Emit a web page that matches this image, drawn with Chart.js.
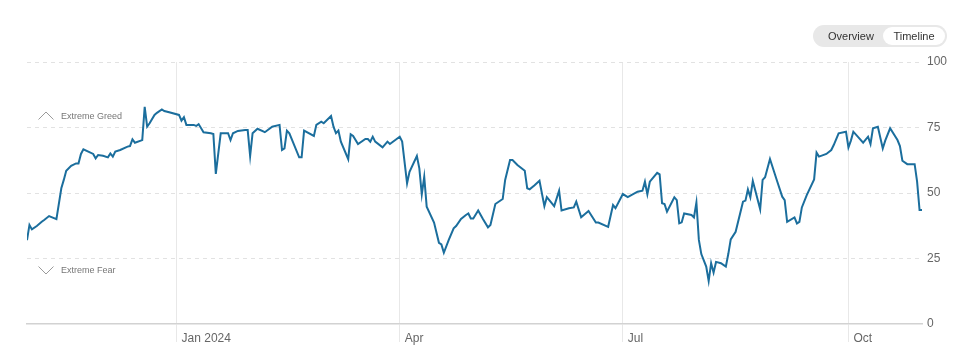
<!DOCTYPE html>
<html>
<head>
<meta charset="utf-8">
<script src="https://cdn.jsdelivr.net/npm/chart.js@4.4.1/dist/chart.umd.min.js"></script>
<style>
  body { margin: 0; background: #fff; font-family: 'Liberation Sans', Arial, sans-serif; }
  #wrap { position: relative; width: 966px; height: 360px; }
  #toggle { position: absolute; left: 813px; top: 25px; width: 134px; height: 22px; border-radius: 11px; background: #e8e8e8; font-size: 11px; color: #333; }
  #toggle .off { position: absolute; left: 15px; top: 0; line-height: 22px; }
  #toggle .on { position: absolute; left: 70px; top: 2px; width: 62px; height: 18px; border-radius: 9px; background: #fff; line-height: 18px; text-align: center; }
</style>
</head>
<body>
<div id="wrap">
  <canvas id="myChart" width="966" height="360"></canvas>
  <div id="toggle"><span class="off">Overview</span><span class="on">Timeline</span></div>
</div>
<script>
// fear & greed index
const dates = [
  '2023-11-01','2023-11-02','2023-11-03','2023-11-05','2023-11-07','2023-11-08','2023-11-10','2023-11-13','2023-11-15','2023-11-16',
  '2023-11-17','2023-11-19','2023-11-21','2023-11-22','2023-11-23','2023-11-24','2023-11-26','2023-11-28','2023-11-29','2023-11-30',
  '2023-12-02','2023-12-04','2023-12-05','2023-12-06','2023-12-07','2023-12-09','2023-12-12','2023-12-13','2023-12-14','2023-12-15',
  '2023-12-18','2023-12-19','2023-12-20','2023-12-21','2023-12-23','2023-12-24','2023-12-26','2023-12-27','2023-12-29','2024-01-02',
  '2024-01-03','2024-01-04','2024-01-05','2024-01-07','2024-01-08','2024-01-09','2024-01-10','2024-01-12','2024-01-15','2024-01-16',
  '2024-01-17','2024-01-19','2024-01-22','2024-01-23','2024-01-24','2024-01-26','2024-01-29','2024-01-30','2024-01-31','2024-02-01',
  '2024-02-03','2024-02-06','2024-02-09','2024-02-12','2024-02-13','2024-02-14','2024-02-15','2024-02-16','2024-02-20','2024-02-21',
  '2024-02-22','2024-02-26','2024-02-27','2024-02-29','2024-03-01','2024-03-04','2024-03-05','2024-03-06','2024-03-07','2024-03-08',
  '2024-03-11','2024-03-12','2024-03-13','2024-03-15','2024-03-18','2024-03-19','2024-03-20','2024-03-21','2024-03-22','2024-03-25',
  '2024-03-27','2024-03-28','2024-04-01','2024-04-02','2024-04-04','2024-04-05','2024-04-08','2024-04-09','2024-04-10','2024-04-11',
  '2024-04-12','2024-04-15','2024-04-17','2024-04-18','2024-04-19','2024-04-21','2024-04-23','2024-04-24','2024-04-26','2024-04-28',
  '2024-04-29','2024-04-30','2024-05-01','2024-05-03','2024-05-05','2024-05-07','2024-05-08','2024-05-10','2024-05-13','2024-05-14',
  '2024-05-16','2024-05-17','2024-05-19','2024-05-22','2024-05-23','2024-05-24','2024-05-26','2024-05-28','2024-05-30','2024-05-31',
  '2024-06-03','2024-06-05','2024-06-06','2024-06-09','2024-06-11','2024-06-12','2024-06-14','2024-06-17','2024-06-20','2024-06-21',
  '2024-06-25','2024-06-27','2024-06-28','2024-07-01','2024-07-03','2024-07-07','2024-07-09','2024-07-10','2024-07-11','2024-07-12',
  '2024-07-15','2024-07-16','2024-07-17','2024-07-18','2024-07-19','2024-07-22','2024-07-23','2024-07-24','2024-07-25','2024-07-26',
  '2024-07-29','2024-07-30','2024-07-31','2024-08-01','2024-08-02','2024-08-04','2024-08-05','2024-08-06','2024-08-07','2024-08-08',
  '2024-08-10','2024-08-12','2024-08-13','2024-08-14','2024-08-16','2024-08-19','2024-08-20','2024-08-21','2024-08-22','2024-08-23',
  '2024-08-26','2024-08-27','2024-08-28','2024-08-30','2024-09-02','2024-09-04','2024-09-05','2024-09-06','2024-09-09','2024-09-10',
  '2024-09-11','2024-09-12','2024-09-14','2024-09-17','2024-09-18','2024-09-19','2024-09-22','2024-09-24','2024-09-25','2024-09-27',
  '2024-09-30','2024-10-01','2024-10-02','2024-10-03','2024-10-07','2024-10-09','2024-10-10','2024-10-11','2024-10-13','2024-10-15',
  '2024-10-16','2024-10-18','2024-10-21','2024-10-22','2024-10-23','2024-10-25','2024-10-28','2024-10-29','2024-10-30','2024-10-31'
];
const values = [
  32, 37.8, 36.1, 37.4, 39, 39.7, 41.2, 40, 51.8, 55,
  58.5, 60.4, 61.3, 61.3, 64.9, 66.7, 65.8, 64.9, 63.2, 64.5,
  64.2, 63.6, 65.1, 63.9, 65.8, 66.4, 67.7, 67.9, 70.5, 69.2,
  70.2, 82.9, 75.3, 76.6, 79.8, 80.6, 81.9, 81.3, 80.8, 79.8,
  77.6, 78.9, 76, 76, 76, 75.6, 76.3, 73.2, 72.8, 72.5,
  57.3, 72.8, 72.8, 70.2, 72.8, 73.7, 74, 74, 64.1, 72.8,
  74.5, 73.2, 75.3, 76, 66.4, 67, 73.8, 72.8, 63.6, 63.6,
  73.8, 71.8, 76, 77.2, 76.6, 79.4, 75.3, 72.8, 73.8, 69.6,
  62.9, 72.4, 71.8, 68.7, 70.6, 70.6, 69.6, 71.5, 69.6, 67.4,
  69.6, 68.7, 71.5, 69.6, 53.7, 58.1, 64.1, 59.4, 49.5, 56.2,
  44.8, 38.7, 31, 30.4, 27.2, 32.1, 36.5, 37.4, 40.1, 41.6,
  42.2, 40.3, 40.3, 43.3, 40, 36.9, 37.8, 45.8, 47.7, 55,
  62.6, 62.6, 60.7, 58.5, 51.8, 51.4, 53, 54.7, 45, 48.4,
  45, 50.9, 43.3, 44.2, 44.5, 46.7, 40.7, 43.1, 38.7, 38.7,
  37.1, 45.4, 44.2, 49.6, 48.4, 50.5, 50.9, 54.3, 49.5, 54.3,
  57.7, 57.1, 46.1, 45.8, 42.9, 48.4, 47.3, 38.4, 38.8, 42.2,
  41.6, 40.7, 46.4, 32.1, 26.7, 21.9, 16.4, 23.2, 19.6, 23.7,
  23.2, 21.9, 26.7, 32.3, 35.2, 46.7, 47.1, 51.4, 48.4, 54.6,
  43.8, 55, 56, 63, 54.3, 48.6, 47.3, 39, 40.7, 38.4,
  39, 44.5, 49.2, 55.2, 65.4, 63.9, 64.9, 66.4, 68.3, 72.8,
  73.4, 67.4, 70, 73.4, 69.2, 71.5, 68.7, 74.7, 75.3, 67,
  70, 74.7, 70.2, 67.9, 62.3, 61, 61, 54.3, 43.5, 43.5
];
const tickDates = ['2024-01-01', '2024-04-01', '2024-07-01', '2024-10-01'];
const tickLabels = ['Jan 2024', 'Apr', 'Jul', 'Oct'];
const yTicks = [0, 25, 50, 75, 100];

const FONT = "'Liberation Sans', Arial, sans-serif";
const dayNum = s => (Date.parse(s) - Date.parse('2024-01-01')) / 86400000;

// the little "Extreme Greed" / "Extreme Fear" marks on the left
const zoneLabels = {
  id: 'zoneLabels',
  beforeDatasetsDraw(chart) {
    const c = chart.ctx;
    c.save();
    c.strokeStyle = '#9a9a9a';
    c.lineWidth = 1;
    c.beginPath();
    c.moveTo(38.5, 119.5); c.lineTo(46, 112); c.lineTo(53.5, 119.5);
    c.moveTo(38.5, 266.5); c.lineTo(46, 274); c.lineTo(53.5, 266.5);
    c.stroke();
    c.fillStyle = '#777';
    c.font = '9px ' + FONT;
    c.textBaseline = 'middle';
    c.fillText('Extreme Greed', 61, 117);
    c.fillText('Extreme Fear', 61, 271);
    c.restore();
  }
};

const ctx = document.getElementById('myChart');
const myChart = new Chart(ctx, {
  type: 'line',
  data: {
    datasets: [{
      data: dates.map((d, i) => ({ x: dayNum(d), y: values[i] })),
      borderColor: '#1b6e9d',
      borderWidth: 2,
      pointRadius: 0,
      tension: 0,
      fill: false
    }]
  },
  options: {
    responsive: false,
    animation: false,
    layout: { padding: { top: 62, left: 27, right: 0, bottom: 0 } },
    plugins: { legend: { display: false }, tooltip: { enabled: false } },
    scales: {
      x: {
        type: 'linear',
        min: dayNum(dates[0]),
        max: dayNum(dates[dates.length - 1]),
        afterBuildTicks: s => { s.ticks = tickDates.map(d => ({ value: dayNum(d) })); },
        afterFit: s => { s.height = 36; },
        grid: { color: '#e8e8e8', tickColor: '#e8e8e8', tickLength: 18, lineWidth: 1 },
        border: { display: true, color: '#d2d2d2', width: 1.5 },
        ticks: {
          align: 'start',
          labelOffset: 5,
          padding: -11,
          maxRotation: 0,
          autoSkip: false,
          color: '#666',
          font: { family: FONT, size: 12 },
          callback: (v, i) => tickLabels[i]
        }
      },
      y: {
        position: 'right',
        min: 0,
        max: 100,
        afterBuildTicks: s => { s.ticks = yTicks.map(v => ({ value: v })); },
        afterFit: s => { s.width = 44; },
        grid: {
          drawTicks: false,
          color: c => c.tick && c.tick.value === 0 ? 'rgba(0,0,0,0)' : '#e2e2e2'
        },
        border: { display: false, dash: [4, 4] },
        ticks: {
          padding: 5,
          color: '#666',
          font: { family: FONT, size: 12 }
        }
      }
    }
  },
  plugins: [zoneLabels]
});
</script>
</body>
</html>
